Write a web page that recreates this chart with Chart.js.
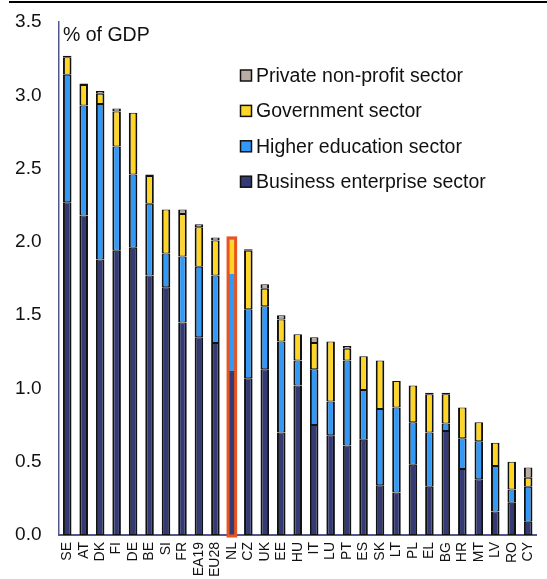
<!DOCTYPE html>
<html>
<head>
<meta charset="utf-8">
<script src="https://cdn.jsdelivr.net/npm/chart.js@4/dist/chart.umd.min.js"></script>
<style>
  html, body { margin: 0; padding: 0; background: #fff; overflow: hidden; }
  #wrap { width: 552px; height: 579px; }
</style>
</head>
<body>
<div id="wrap"><canvas id="c" width="552" height="579"></canvas></div>
<script>
// ---- data ----
const categories = ['SE','AT','DK','FI','DE','BE','SI','FR','EA19','EU28','NL','CZ','UK','EE','HU','IT','LU','PT','ES','SK','LT','PL','EL','BG','HR','MT','LV','RO','CY'];
const business   = [2.27,2.18,1.88,1.94,1.96,1.77,1.69,1.45,1.35,1.31,1.12,1.07,1.13,0.70,1.02,0.75,0.68,0.61,0.65,0.34,0.29,0.48,0.33,0.71,0.45,0.38,0.16,0.22,0.09];
const higherEd   = [0.87,0.75,1.06,0.71,0.50,0.49,0.23,0.45,0.48,0.46,0.66,0.47,0.43,0.62,0.17,0.38,0.23,0.58,0.34,0.52,0.58,0.29,0.37,0.05,0.21,0.26,0.31,0.09,0.24];
const government = [0.12,0.14,0.07,0.24,0.42,0.19,0.30,0.29,0.27,0.24,0.23,0.40,0.12,0.15,0.18,0.18,0.41,0.08,0.23,0.33,0.18,0.25,0.26,0.20,0.21,0.13,0.16,0.19,0.06];
const privateNP  = [0.01,0.01,0.02,0.02,0.00,0.01,0.00,0.03,0.02,0.02,0.01,0.01,0.03,0.03,0.00,0.04,0.00,0.02,0.00,0.00,0.00,0.00,0.01,0.01,0.00,0.00,0.00,0.00,0.07];
const seriesLabels = ['Business enterprise sector','Higher education sector','Government sector','Private non-profit sector'];
const yTicks = [0,0.5,1.0,1.5,2.0,2.5,3.0,3.5];
const unitLabel = '% of GDP';
const highlight = 'NL';

const FONT = "'Liberation Sans', Arial, Helvetica, sans-serif";
const colors = ['#343a74', '#3399f7', '#ffd526', '#b8aca4'];
const axisColor = '#525690';
const hlIndex = categories.indexOf(highlight);

const bw = (ctx) => (ctx.dataIndex === hlIndex ? 0 : { left: 2, right: 2, top: 1, bottom: 1 });

const datasets = [business, higherEd, government, privateNP].map((d, i) => ({
  label: seriesLabels[i],
  data: d,
  backgroundColor: colors[i],
  borderColor: '#111111',
  borderWidth: bw,
  borderSkipped: false,
  categoryPercentage: 1.0,
  barPercentage: 0.52
}));

const decor = {
  id: 'decor',
  afterDatasetsDraw(chart) {
    const ctx = chart.ctx;
    let top = Infinity, base = -Infinity, x = 0, w = 0;
    chart.data.datasets.forEach((ds, di) => {
      const el = chart.getDatasetMeta(di).data[hlIndex];
      if (!el) return;
      const p = el.getProps(['x','y','base','width'], true);
      top = Math.min(top, p.y, p.base);
      base = Math.max(base, p.y, p.base);
      x = p.x; w = p.width;
    });
    ctx.save();
    ctx.strokeStyle = '#e8531e';
    ctx.lineWidth = 3;
    ctx.strokeRect(x - w / 2 + 0.5, top - 1, w - 1, base - top + 2);
    ctx.restore();
  },
  afterDraw(chart) {
    const ctx = chart.ctx;
    const area = chart.chartArea;
    ctx.save();
    ctx.strokeStyle = '#000';
    ctx.lineWidth = 2;
    ctx.beginPath();
    ctx.moveTo(9, 2);
    ctx.lineTo(chart.width, 2);
    ctx.stroke();
    ctx.fillStyle = '#111';
    ctx.font = '19.5px ' + FONT;
    ctx.textBaseline = 'alphabetic';
    ctx.textAlign = 'left';
    ctx.fillText(unitLabel, area.left + 4, 41);
    const order = [3, 2, 1, 0];
    order.forEach((di, r) => {
      const ds = chart.data.datasets[di];
      const base = 82 + r * 35.4;
      ctx.fillStyle = ds.backgroundColor;
      ctx.fillRect(240.5, base - 12, 11, 11);
      ctx.strokeStyle = '#111';
      ctx.lineWidth = 1.5;
      ctx.strokeRect(240.5, base - 12, 11, 11);
      ctx.fillStyle = '#111';
      ctx.font = '19.5px ' + FONT;
      ctx.fillText(ds.label, 256, base);
    });
    ctx.restore();
  }
};

new Chart(document.getElementById('c'), {
  type: 'bar',
  data: { labels: categories, datasets },
  options: {
    responsive: false,
    animation: false,
    devicePixelRatio: 1,
    layout: { padding: { top: 22, right: 1, left: 0, bottom: 0 } },
    plugins: { legend: { display: false }, tooltip: { enabled: false }, title: { display: false } },
    scales: {
      x: {
        stacked: true,
        offset: true,
        grid: { display: false, drawTicks: false },
        border: { display: true, color: axisColor, width: 2 },
        ticks: {
          autoSkip: false, maxRotation: 90, minRotation: 90,
          padding: 7, color: '#111',
          font: { family: FONT, size: 14 }
        },
        afterFit(scale) { scale.height = 44; }
      },
      y: {
        stacked: true,
        min: 0, max: 3.5,
        grid: { display: false, drawTicks: false },
        border: { display: true, color: axisColor, width: 1.5 },
        afterBuildTicks(scale) { scale.ticks = yTicks.map(v => ({ value: v })); },
        ticks: {
          padding: 17.5, color: '#111',
          font: { family: FONT, size: 19 },
          callback: (v) => Number(v).toFixed(1)
        },
        afterFit(scale) {
          scale.width = 59;
          scale.paddingTop = 10;
          scale.paddingBottom = 10;
        }
      }
    }
  },
  plugins: [decor]
});
</script>
</body>
</html>
